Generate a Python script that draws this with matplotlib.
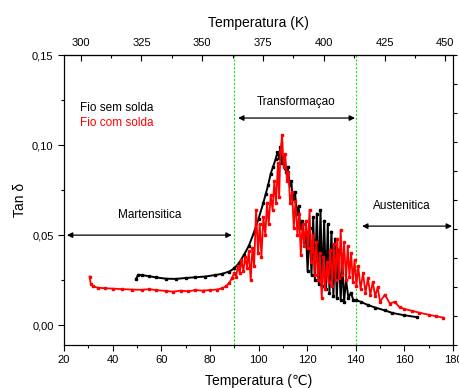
import matplotlib
matplotlib.use("Agg")
import matplotlib.pyplot as plt
from matplotlib.ticker import MultipleLocator, FuncFormatter

plt.rcParams['font.family'] = ['Liberation Sans', 'DejaVu Sans']

# Fio sem solda (black)
black_T = [49.6, 50.5, 52, 55, 58, 62, 66, 70, 74, 78, 82, 85, 88, 90, 92, 94, 96, 98, 100,
           102, 103, 104, 105, 106, 107, 107.8, 108.5, 109, 109.5, 110, 110.8, 111.5, 112,
           112.8, 113.5, 114, 115, 115.8, 116.5, 117.2, 118, 118.8, 119.5, 120.2, 121, 121.8,
           122.5, 123.2, 124, 124.8, 125.5, 126.2, 127, 127.8, 128.5, 129.2, 130, 130.8, 131.5,
           132.2, 133, 133.8, 134.5, 135.2, 136, 137, 138, 139, 140, 142, 145, 148, 152, 155,
           160, 165]
black_v = [0.0256, 0.0280, 0.0278, 0.0272, 0.0265, 0.0258, 0.0257, 0.0262, 0.0266, 0.0270,
           0.0278, 0.0285, 0.0298, 0.0315, 0.0345, 0.0390, 0.0440, 0.0510, 0.0590,
           0.0680, 0.0730, 0.0780, 0.0840, 0.0880, 0.0920, 0.0960, 0.0930, 0.0990, 0.0900,
           0.0940, 0.0870, 0.0850, 0.0880, 0.0780, 0.0800, 0.0700, 0.0740, 0.0620, 0.0660,
           0.0540, 0.0580, 0.0460, 0.0520, 0.0300, 0.0540, 0.0280, 0.0600, 0.0250, 0.0620,
           0.0230, 0.0640, 0.0220, 0.0580, 0.0200, 0.0560, 0.0180, 0.0520, 0.0160, 0.0480,
           0.0150, 0.0420, 0.0140, 0.0350, 0.0130, 0.0250, 0.0150, 0.0180, 0.0140, 0.0140,
           0.0130, 0.0112, 0.0098, 0.0082, 0.0068, 0.0055, 0.0045]

# Fio com solda (red)
red_T = [30.5, 31, 32, 34, 37, 40, 44, 48, 52, 55, 58, 62, 65, 68, 71, 74, 77, 80, 83, 85,
         86.5, 88, 89, 90, 90.8, 91.5, 92.3, 93, 93.8, 94.5, 95.3, 96, 96.8, 97.5, 98.2, 99,
         99.8, 100.5, 101.2, 102, 102.8, 103.5, 104.2, 105, 105.8, 106.5, 107.2, 108, 108.5,
         109, 109.7, 110.3, 111, 111.7, 112.3, 113, 113.8, 114.5, 115.2, 116, 116.7, 117.4,
         118.1, 118.8, 119.5, 120.3, 121, 121.7, 122.4, 123.1, 123.8, 124.5, 125.2, 126,
         126.7, 127.4, 128.1, 128.8, 129.5, 130.3, 131, 131.7, 132.4, 133.1, 133.8, 134.5,
         135.2, 136, 136.7, 137.4, 138.1, 138.8, 139.5, 140.3, 141, 142, 143, 144, 145, 146,
         147, 148, 149, 150, 152, 154, 156, 158, 160, 163, 166, 170, 173, 176]
red_v = [0.0270, 0.0230, 0.0215, 0.0208, 0.0205, 0.0203, 0.0200, 0.0198, 0.0196, 0.0200,
         0.0195, 0.0190, 0.0186, 0.0192, 0.0188, 0.0195, 0.0192, 0.0195, 0.0198, 0.0205,
         0.0215, 0.0235, 0.0260, 0.0290, 0.0270, 0.0330, 0.0290, 0.0360, 0.0300, 0.0380,
         0.0320, 0.0410, 0.0250, 0.0430, 0.0330, 0.0640, 0.0400, 0.0560, 0.0380, 0.0600,
         0.0500, 0.0680, 0.0560, 0.0720, 0.0640, 0.0800, 0.0680, 0.0900, 0.0710, 0.0960,
         0.1055, 0.0880, 0.0950, 0.0800, 0.0850, 0.0680, 0.0740, 0.0540, 0.0690, 0.0500,
         0.0620, 0.0390, 0.0560, 0.0440, 0.0580, 0.0430, 0.0640, 0.0350, 0.0500, 0.0280,
         0.0460, 0.0250, 0.0400, 0.0150, 0.0380, 0.0200, 0.0350, 0.0240, 0.0420, 0.0220,
         0.0450, 0.0250, 0.0480, 0.0260, 0.0530, 0.0280, 0.0460, 0.0250, 0.0440, 0.0270,
         0.0400, 0.0240, 0.0360, 0.0220, 0.0330, 0.0200, 0.0290, 0.0180, 0.0260, 0.0170,
         0.0240, 0.0160, 0.0210, 0.0130, 0.0170, 0.0120, 0.0130, 0.0100, 0.0090, 0.0080,
         0.0070, 0.0058, 0.0050, 0.0042]

x_ticks = [20, 40, 60, 80, 100, 120, 140, 160, 180]
y_ticks = [0.00, 0.05, 0.10, 0.15]
k_ticks = [300, 325, 350, 375, 400, 425, 450]
vlines = [90, 140]

fig = plt.figure(figsize=(4.59, 3.88), dpi=100)
ax = fig.add_axes([64/459, 43/388, 389/459, 290/388])

ax.plot(black_T, black_v, color='black', lw=1.4, marker='s', ms=2.0, zorder=3)
ax.plot(red_T, red_v, color='#ff0000', lw=1.3, marker='s', ms=2.0, zorder=4)

for v in vlines:
    ax.axvline(v, color='#22dd22', lw=0.8, ls=(0, (2, 1.5)), zorder=2)

ax.set_xlim(20, 180)
ax.set_ylim(-0.011, 0.15)
ax.set_xticks(x_ticks)
ax.xaxis.set_minor_locator(MultipleLocator(10))
ax.set_yticks(y_ticks)
ax.yaxis.set_minor_locator(MultipleLocator(0.025))
ax.yaxis.set_major_formatter(FuncFormatter(lambda v, p: f"{v:.2f}".replace('.', ',')))
ax.tick_params(axis='both', which='major', direction='out', length=4, width=0.8, labelsize=8)
ax.tick_params(axis='both', which='minor', direction='out', length=2, width=0.8)
ax.set_xlabel('Temperatura (\u2103)', fontsize=10, labelpad=6)
ax.set_ylabel('Tan \u03b4', fontsize=10, labelpad=4)

# Top Kelvin axis
sec = ax.secondary_xaxis('top', functions=(lambda c: c + 273.15, lambda k: k - 273.15))
sec.set_xticks(k_ticks)
sec.xaxis.set_minor_locator(MultipleLocator(12.5))
sec.tick_params(which='major', direction='in', length=4, width=0.8, labelsize=8, pad=5)
sec.tick_params(which='minor', direction='in', length=2, width=0.8)
sec.set_xlabel('Temperatura (K)', fontsize=10, labelpad=8)

# Right unlabeled axis
rax = ax.twinx()
rax.set_ylim(0, 10)
rax.set_yticks(range(0, 11))
rax.tick_params(axis='y', direction='out', length=3, width=0.8, labelright=False)

for a in (ax, rax):
    for s in a.spines.values():
        s.set_linewidth(0.8)

arrow = dict(arrowstyle='<|-|>', color='black', lw=0.9, mutation_scale=8, shrinkA=0, shrinkB=0)
ax.annotate('', xy=(21.2, 0.05), xytext=(89, 0.05), arrowprops=arrow)
ax.annotate('', xy=(91.6, 0.115), xytext=(139.7, 0.115), arrowprops=arrow)
ax.annotate('', xy=(142.6, 0.055), xytext=(179.6, 0.055), arrowprops=arrow)

ax.text(55.4, 0.061, 'Martensitica', fontsize=8.5, ha='center', va='center')
ax.text(115.4, 0.124, 'Transformaçao', fontsize=8.5, ha='center', va='center')
ax.text(159, 0.066, 'Austenitica', fontsize=8.5, ha='center', va='center')
ax.text(26.6, 0.1205, 'Fio sem solda', fontsize=8.5, color='black', ha='left', va='center')
ax.text(26.6, 0.1125, 'Fio com solda', fontsize=8.5, color='#ff0000', ha='left', va='center')

fig.savefig('out.png', dpi=100)
